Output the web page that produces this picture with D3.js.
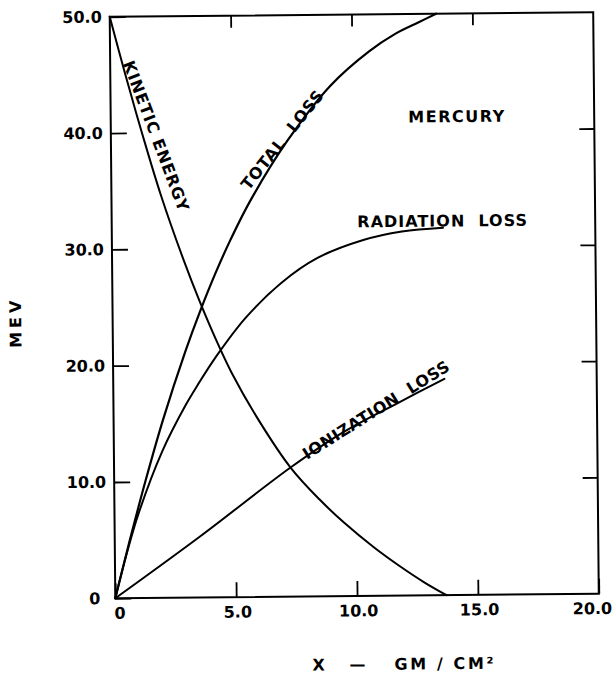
<!DOCTYPE html>
<html>
<head>
<meta charset="utf-8">
<script src="https://cdn.jsdelivr.net/npm/d3@7"></script>
<style>
  html, body { margin: 0; padding: 0; background: #fff; }
  svg { display: block; }
  text { font-family: "DejaVu Sans", sans-serif; font-weight: bold; fill: #000; }
</style>
</head>
<body>
<script>
// ---- data ----
const xTicks = [0, 5, 10, 15, 20];
const yTicks = [0, 10, 20, 30, 40, 50];
const kineticEnergy = [[0,50],[0.6,45.2],[1.3,39.9],[2.05,34.6],[3.0,28.8],[3.6,25.5],[4.3,22.0],[4.9,19.3],[6.0,15.2],[7.3,11.1],[8.5,8.3],[9.5,6.3],[10.7,4.2],[11.8,2.5],[12.8,1.1],[13.7,0]];
const totalLoss = [[0,0],[0.6,4.8],[1.3,10.1],[2.05,15.35],[3.0,21.2],[3.6,24.5],[4.3,28.0],[4.9,30.7],[5.75,34.1],[7.3,39.2],[9.1,43.9],[10.7,46.8],[11.8,48.3],[12.8,49.3],[13.5,50]];
const radiationLoss = [[0,0],[0.5,3.9],[1.0,7.3],[2.0,12.6],[3.0,16.6],[3.5,18.3],[4.3,20.8],[5.5,24.0],[7.0,27.0],[8.5,29.1],[10.4,30.6],[12.0,31.3],[13.7,31.6]];
const ionizationLoss = [[0,0],[3.5,5.2],[7.3,11.1],[9.5,14.1],[11.8,16.6],[13.7,18.6]];
const curveLabels = [
  {text: "KINETIC ENERGY", x: 1.88, y: 39.7, angle: 70, anchor: "middle", ls: 0.8},
  {text: "TOTAL  LOSS", x: 7.09, y: 39.3, angle: -51, anchor: "middle", ls: 0.8},
  {text: "RADIATION  LOSS", x: 10.16, y: 31.7, angle: 0, anchor: "start", ls: 1},
  {text: "IONIZATION  LOSS", x: 10.86, y: 16.0, angle: -31.6, anchor: "middle", ls: 0.5},
  {text: "MERCURY", x: 12.31, y: 40.67, angle: 0, anchor: "start", ls: 1.5}
];

const W = 613, H = 678;
const svg = d3.select("body").append("svg").attr("width", W).attr("height", H);
// the scanned original is turned very slightly
const root = svg.append("g").attr("transform", "rotate(-0.55,354,305)");

const x = d3.scaleLinear().domain([0, 20]).range([112.5, 596]);
const y = d3.scaleLinear().domain([0, 50]).range([596, 14.5]);

const fmt = d => d === 0 ? "0" : d3.format(".1f")(d);

// axes
const gB = root.append("g").attr("transform", `translate(0,${y(0)})`)
  .call(d3.axisBottom(x).tickValues(xTicks).tickSize(-15).tickPadding(6).tickFormat(fmt));
const gL = root.append("g").attr("transform", `translate(${x(0)},0)`)
  .call(d3.axisLeft(y).tickValues(yTicks).tickSize(-16).tickPadding(6).tickFormat(fmt));
const gT = root.append("g").attr("transform", `translate(0,${y(50)})`)
  .call(d3.axisTop(x).tickValues([5, 10, 15]).tickSize(-12).tickFormat(""));
const gR = root.append("g").attr("transform", `translate(${x(20)},0)`)
  .call(d3.axisRight(y).tickValues([10, 20, 30, 40]).tickSize(-15).tickFormat(""));

[gB, gL, gT, gR].forEach(g => {
  g.select(".domain").remove();
  g.selectAll(".tick line").attr("stroke", "#000").attr("stroke-width", 1.8);
  g.selectAll(".tick text").attr("font-size", 16).attr("font-family", "DejaVu Sans").attr("font-weight", "bold").attr("fill", "#000");
});
gB.selectAll(".tick text").attr("dy", "0.9em")
  .attr("dx", d => d === 0 ? 4 : d === 20 ? -7 : 1);
gL.selectAll(".tick text").attr("dx", d => d === 0 ? -9 : -2);

// frame
root.append("rect")
  .attr("x", x(0)).attr("y", y(50))
  .attr("width", x(20) - x(0)).attr("height", y(0) - y(50))
  .attr("fill", "none").attr("stroke", "#000").attr("stroke-width", 2);

// curves
const line = d3.line().x(d => x(d[0])).y(d => y(d[1])).curve(d3.curveCatmullRom.alpha(0.5));
[[kineticEnergy, 2], [totalLoss, 2.2], [radiationLoss, 2], [ionizationLoss, 2]].forEach(([data, sw]) => {
  root.append("path").attr("d", line(data))
    .attr("fill", "none").attr("stroke", "#000").attr("stroke-width", sw)
    .attr("stroke-linejoin", "round").attr("stroke-linecap", "round");
});

// curve labels
curveLabels.forEach(l => {
  root.append("text")
    .attr("transform", `translate(${x(l.x)},${y(l.y)}) rotate(${l.angle})`)
    .attr("text-anchor", l.anchor)
    .attr("dy", l.angle === 0 ? 0 : "0.36em")
    .attr("font-size", 16)
    .attr("letter-spacing", l.ls)
    .style("white-space", "pre")
    .text(l.text);
});

// axis titles
root.append("text")
  .attr("transform", "translate(21,319) rotate(-90)")
  .attr("text-anchor", "middle")
  .attr("font-size", 16)
  .attr("letter-spacing", 4)
  .text("MEV");

const xt = root.append("text").attr("y", 670).attr("font-size", 16).style("white-space", "pre");
xt.append("tspan").attr("x", 309).text("X");
xt.append("tspan").attr("x", 346).text("—");
xt.append("tspan").attr("x", 391).attr("letter-spacing", 2.6).text("GM / CM²");
</script>
</body>
</html>
